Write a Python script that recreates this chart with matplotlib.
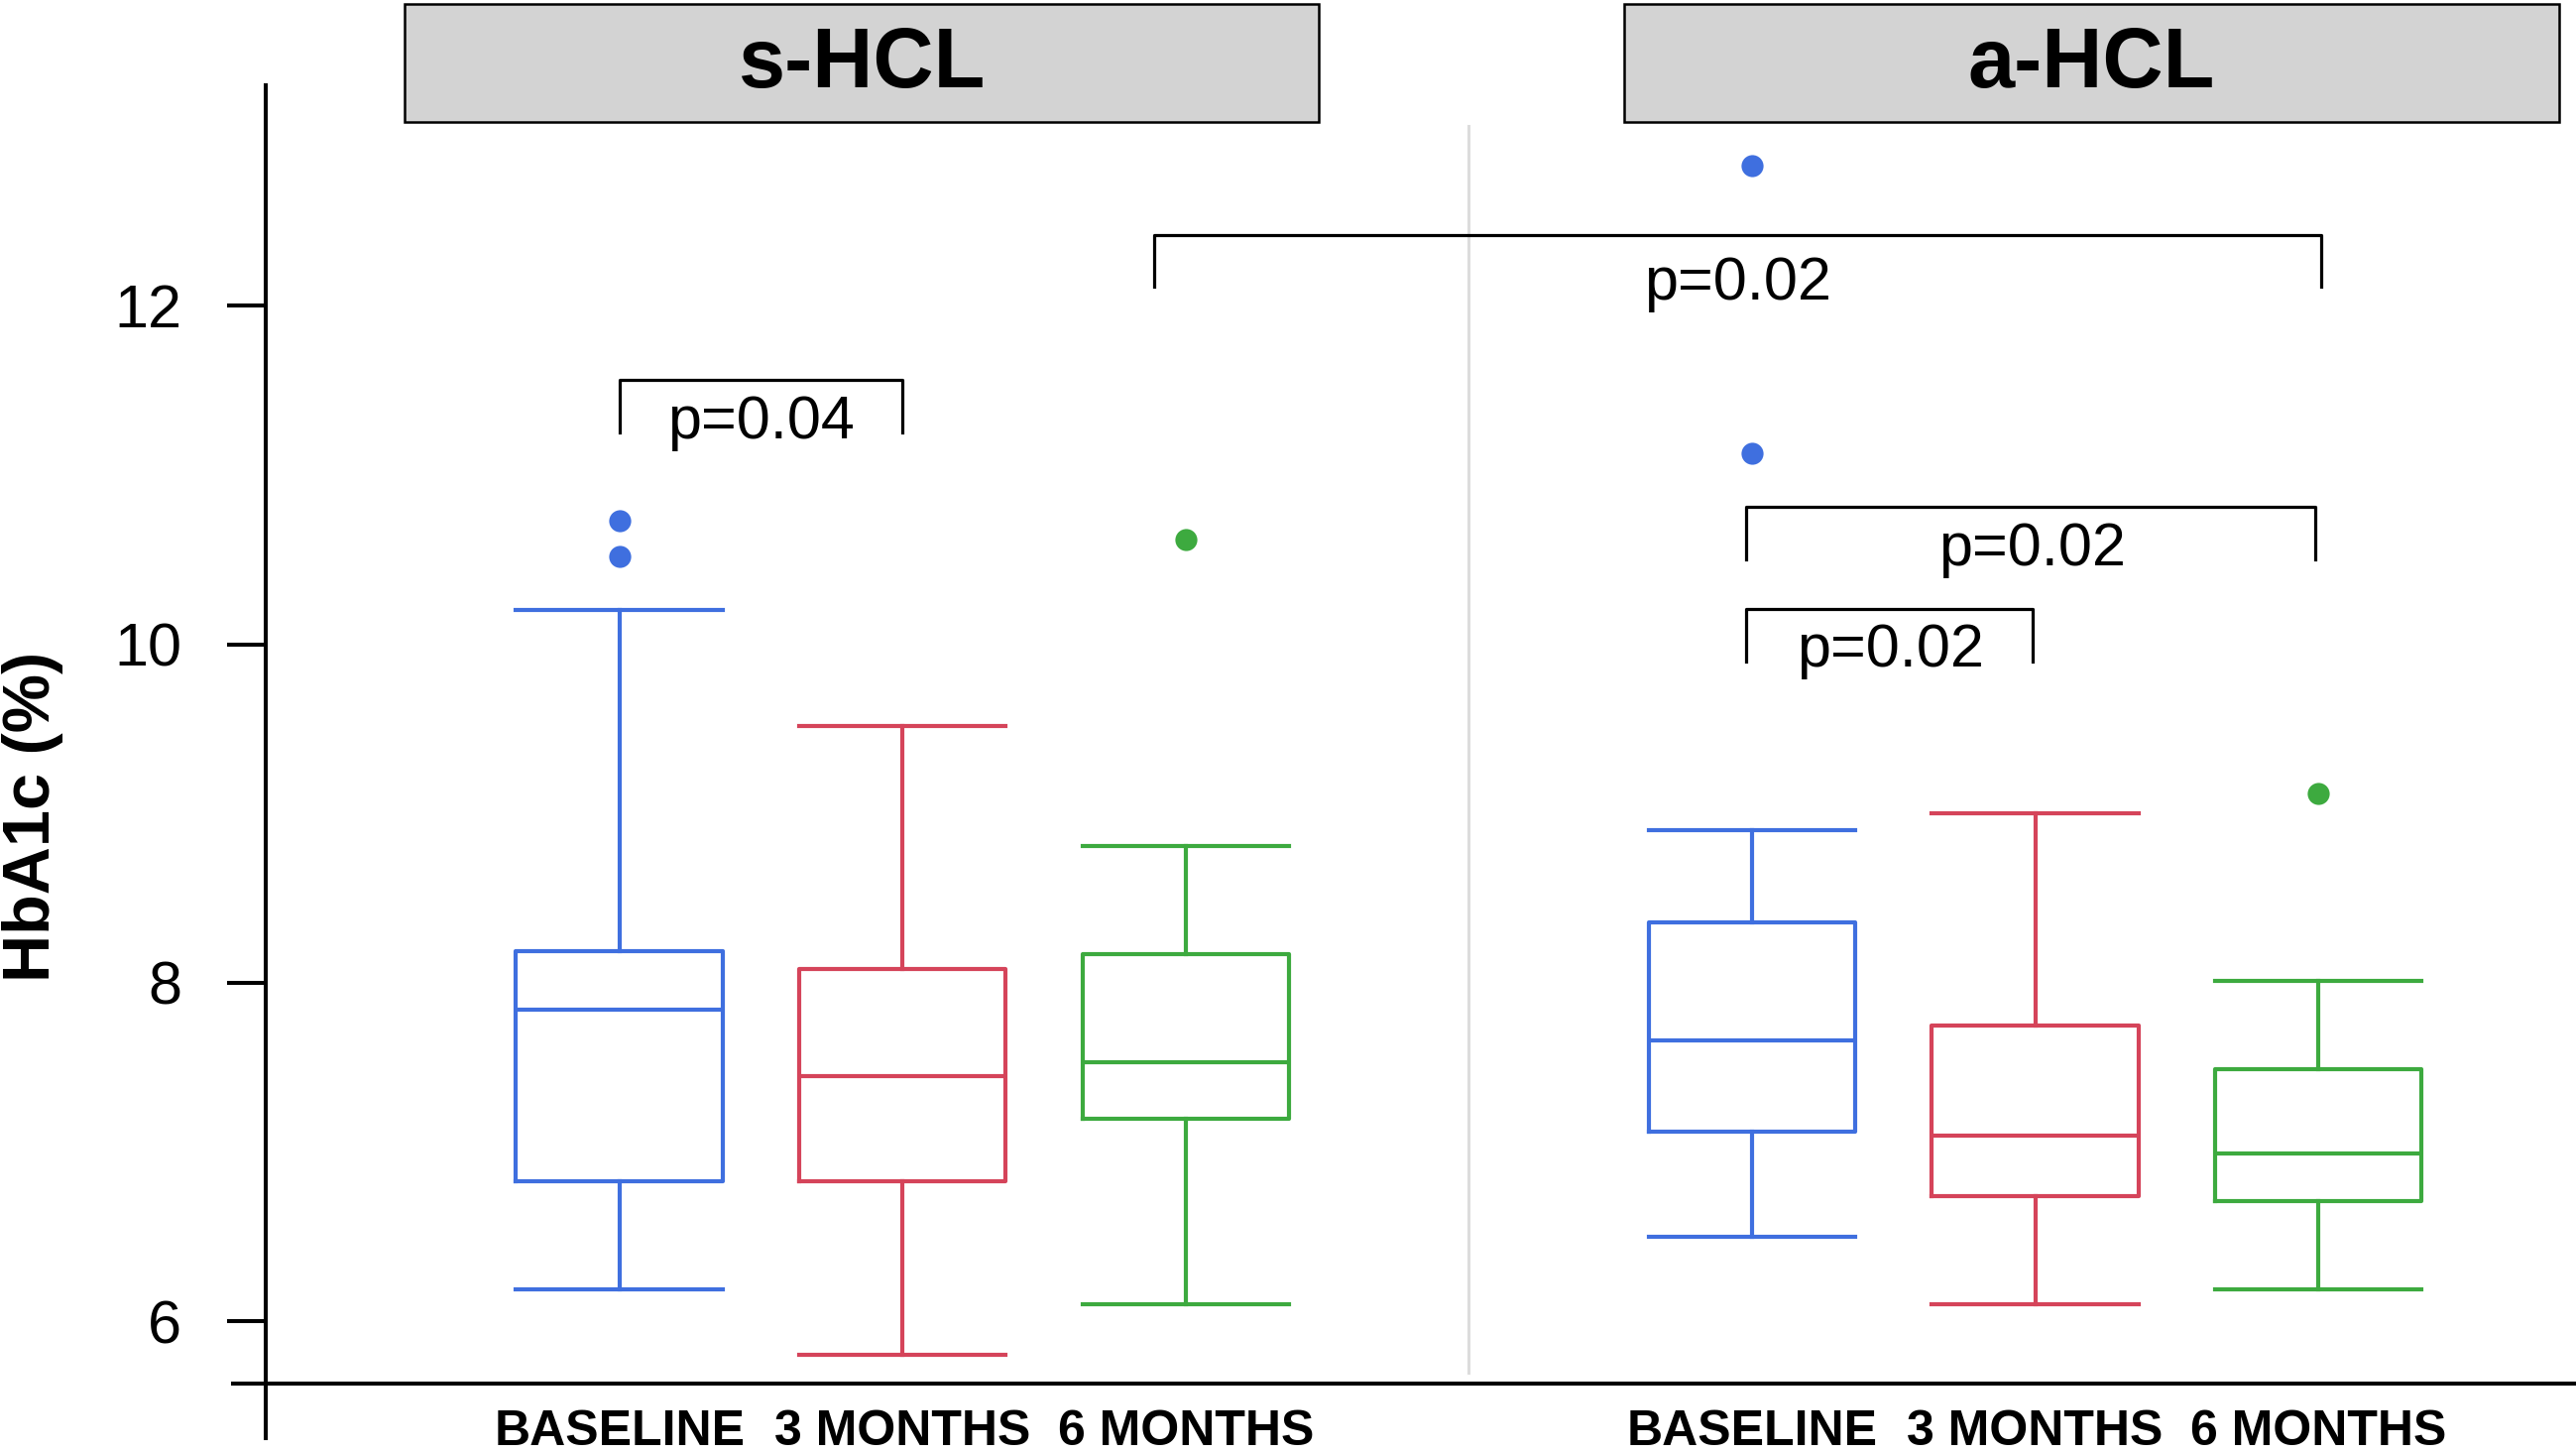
import matplotlib
matplotlib.use("Agg")
import matplotlib.pyplot as plt
from matplotlib.patches import Rectangle

plt.rcParams['font.family'] = ['Liberation Sans', 'DejaVu Sans']

# Data
groups = ['s-HCL', 'a-HCL']
timepoints = ['BASELINE', '3 MONTHS', '6 MONTHS']
positions = [0, 1, 2, 4, 5, 6]
colors = ['#3F6FDF', '#D5445A', '#3DAA3F']

whisker_low = [6.19, 5.80, 6.10, 6.50, 6.10, 6.19]
q1 = [6.83, 6.83, 7.20, 7.12, 6.74, 6.71]
median = [7.84, 7.45, 7.53, 7.66, 7.10, 6.99]
q3 = [8.19, 8.08, 8.17, 8.36, 7.75, 7.49]
whisker_high = [10.20, 9.52, 8.81, 8.90, 9.00, 8.01]
outliers = [[10.73, 10.52], [], [10.62], [12.83, 11.13], [], [9.12]]

# brackets: (x_left, x_right, bar_y, leg_bottom, text_x, text_y, label)
brackets = [
    (0.0, 1.0, 11.56, 11.25, 0.50, 11.31, 'p=0.04'),
    (1.89, 6.01, 12.42, 12.11, 3.95, 12.13, 'p=0.02'),
    (3.98, 5.99, 10.81, 10.50, 4.99, 10.56, 'p=0.02'),
    (3.98, 4.99, 10.21, 9.90, 4.49, 9.96, 'p=0.02'),
]
headers = [(-0.76, 2.47), (3.55, 6.85)]

W, H = 2598, 1466
fig = plt.figure(figsize=(W / 100, H / 100), dpi=100)
ax = fig.add_axes([268 / W, 71 / H, 1 - 268 / W, 1395 / H])
ax.set_xlim(-1.249, 6.91)
ax.set_ylim(5.633, 13.806)

for i, pos in enumerate(positions):
    c = colors[i % 3]
    stats = [{
        'whislo': whisker_low[i], 'q1': q1[i], 'med': median[i],
        'q3': q3[i], 'whishi': whisker_high[i], 'fliers': outliers[i],
    }]
    ax.bxp(stats, positions=[pos], widths=0.73, capwidths=0.73,
           boxprops=dict(color=c, linewidth=3.0),
           whiskerprops=dict(color=c, linewidth=3.0),
           capprops=dict(color=c, linewidth=3.0),
           medianprops=dict(color=c, linewidth=3.0),
           flierprops=dict(marker='o', markerfacecolor=c, markeredgecolor='none',
                           markersize=16),
           manage_ticks=False)

# separator between panels
ax.plot([3.0, 3.0], [5.70, 13.06], color='#dcdcdc', linewidth=2.2, zorder=0)

# significance brackets
for x0, x1, yb, yl, tx, ty, lab in brackets:
    ax.plot([x0, x0, x1, x1], [yl, yb, yb, yl], color='black', linewidth=2.3,
            clip_on=False)
    ax.text(tx, ty, lab, fontsize=44, ha='center', va='center')

# panel headers
for (x0, x1), name in zip(headers, groups):
    ax.add_patch(Rectangle((x0, 13.085), x1 - x0, 0.695, facecolor='#d3d3d3',
                           edgecolor='black', linewidth=1.8, clip_on=False))
    ax.text((x0 + x1) / 2, 13.42, name, fontsize=61, fontweight='bold',
            ha='center', va='center')

# axes lines
for s in ax.spines.values():
    s.set_visible(False)
ax.plot([-1.249, -1.249], [5.31, 13.30], color='black', linewidth=2.9, clip_on=False)
ax.plot([-1.365, 6.91], [5.633, 5.633], color='black', linewidth=2.9, clip_on=False)

ax.set_yticks([6, 8, 10, 12])
ax.tick_params(axis='y', direction='out', length=28, width=2.9, pad=33, labelsize=44)
ax.set_xticks(positions)
ax.set_xticklabels(timepoints * 2, fontsize=36, fontweight='bold')
ax.tick_params(axis='x', length=0, pad=19)

fig.text(33 / W, 1 - 823 / H, 'HbA1c (%)', fontsize=48, fontweight='bold',
         rotation=90, ha='center', va='center')

fig.savefig('out.png', dpi=100)
